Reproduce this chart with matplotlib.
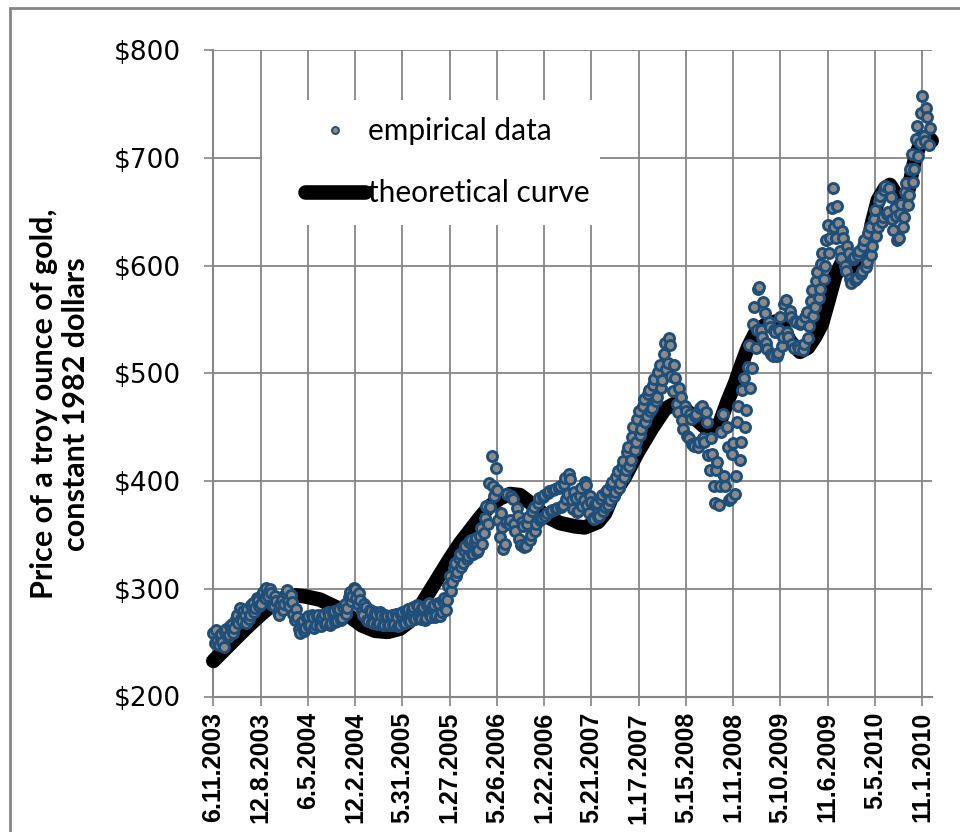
import numpy as np
import pandas as pd
import matplotlib
matplotlib.use("Agg")
import matplotlib.pyplot as plt
from matplotlib.patches import Rectangle
from matplotlib.lines import Line2D

# ---------------- data ----------------
start_date = pd.Timestamp("2003-06-11")

tick_dates = ["2003-06-11", "2003-12-08", "2004-06-05", "2004-12-02", "2005-05-31",
              "2005-11-27", "2006-05-26", "2006-11-22", "2007-05-21", "2007-11-17",
              "2008-05-15", "2008-11-11", "2009-05-10", "2009-11-06", "2010-05-05",
              "2010-11-01"]
tick_labels = ["6.11.2003", "12.8.2003", "6.5.2004", "12.2.2004", "5.31.2005",
               "1.27.2005", "5.26.2006", "1.22.2006", "5.21.2007", "1.17.2007",
               "5.15.2008", "1.11.2008", "5.10.2009", "11.6.2009", "5.5.2010",
               "11.1.2010"]

y_ticks = [200, 300, 400, 500, 600, 700, 800]
y_tick_labels = ["$200", "$300", "$400", "$500", "$600", "$700", "$800"]

# empirical data: one reading every 5 days from start_date
emp_step_days = 5
emp_values = [
    259, 250, 262, 252, 248, 256, 258, 251, 246, 260,
    263, 255, 257, 265, 267, 259, 264, 272, 276, 268,
    282, 272, 270, 279, 276, 268, 281, 272, 276, 285,
    287, 278, 282, 291, 290, 284, 286, 294, 297, 291,
    301, 295, 293, 300, 296, 285, 284, 293, 289, 278,
    276, 286, 290, 280, 286, 296, 299, 289, 284, 294,
    288, 277, 271, 281, 274, 263, 259, 268, 270, 261,
    264, 273, 275, 265, 266, 276, 274, 264, 266, 275,
    276, 266, 265, 274, 277, 267, 268, 278, 276, 266,
    268, 277, 279, 269, 270, 280, 281, 271, 273, 283,
    286, 277, 282, 292, 297, 289, 293, 301, 300, 291,
    286, 296, 290, 279, 276, 286, 283, 271, 270, 280,
    279, 269, 268, 278, 277, 267, 268, 278, 276, 266,
    266, 276, 275, 266, 266, 275, 276, 266, 267, 277,
    274, 265, 266, 276, 278, 268, 268, 279, 281, 270,
    270, 280, 283, 272, 272, 285, 284, 273, 272, 282,
    283, 271, 273, 285, 287, 276, 274, 284, 285, 274,
    276, 287, 286, 275, 278, 289, 291, 280, 290, 303,
    312, 298, 306, 319, 324, 312, 316, 329, 332, 320,
    324, 336, 340, 328, 330, 343, 345, 332, 332, 344,
    347, 334, 336, 349, 356, 342, 352, 366, 377, 360,
    398, 376, 423, 395, 386, 412, 392, 364, 348, 370,
    357, 337, 342, 362, 388, 360, 364, 386, 383, 360,
    354, 375, 368, 346, 341, 362, 358, 339, 340, 360,
    367, 345, 350, 372, 376, 354, 360, 380, 384, 364,
    366, 385, 387, 368, 370, 389, 391, 372, 373, 392,
    393, 374, 375, 394, 395, 376, 378, 397, 403, 383,
    388, 407, 402, 382, 374, 390, 384, 371, 372, 386,
    394, 377, 382, 399, 396, 378, 370, 386, 381, 366,
    365, 379, 380, 367, 368, 383, 387, 372, 376, 390,
    392, 378, 382, 396, 399, 386, 390, 404, 409, 394,
    398, 413, 419, 404, 410, 427, 432, 414, 420, 441,
    450, 429, 436, 458, 465, 443, 448, 470, 476, 455,
    460, 481, 485, 465, 468, 489, 495, 474, 478, 501,
    508, 486, 494, 518, 528, 504, 510, 533, 526, 498,
    484, 508, 496, 472, 464, 486, 478, 457, 448, 470,
    465, 442, 440, 462, 458, 434, 433, 460, 462, 432,
    436, 468, 470, 440, 436, 464, 455, 424, 410, 440,
    425, 395, 380, 410, 418, 378, 395, 446, 462, 405,
    395, 450, 432, 382, 384, 425, 435, 388, 405, 455,
    470, 420, 436, 485, 496, 450, 466, 506, 526, 486,
    505, 546, 562, 524, 540, 578, 580, 540, 534, 566,
    556, 528, 523, 548, 543, 518, 516, 540, 538, 516,
    519, 540, 552, 525, 534, 564, 568, 538, 534, 558,
    552, 527, 524, 549, 548, 525, 523, 546, 548, 522,
    527, 552, 557, 533, 544, 567, 577, 553, 562, 586,
    594, 570, 578, 602, 612, 588, 600, 624, 638, 612,
    626, 654, 672, 636, 626, 655, 640, 614, 607, 632,
    626, 600, 595, 618, 612, 588, 584, 606, 608, 587,
    589, 610, 614, 592, 595, 618, 624, 599, 603, 630,
    636, 610, 618, 643, 652, 628, 636, 660, 665, 641,
    645, 670, 674, 648, 650, 672, 664, 643, 633, 654,
    646, 624, 626, 648, 657, 636, 645, 668, 677, 656,
    666, 690, 704, 678, 690, 718, 730, 702, 714, 742,
    758, 720, 716, 746, 738, 712, 728,
]

# theoretical curve: days since start_date and value
theo_days = [0, 45, 94, 140, 185, 235, 273, 311, 349, 406, 475, 521, 566, 616, 665,
             711, 749, 787, 825, 863, 901, 939, 977, 1015, 1054, 1092, 1130, 1168,
             1206, 1263, 1320, 1377, 1415, 1465, 1492, 1518, 1568, 1617, 1671, 1720,
             1758, 1797, 1835, 1873, 1899, 1930, 1960, 1987, 2013, 2036, 2063, 2101,
             2139, 2166, 2196, 2234, 2265, 2292, 2318, 2341, 2368, 2394, 2417, 2455,
             2482, 2508, 2531, 2558, 2577, 2596, 2622, 2645, 2671, 2698, 2721, 2736]
theo_values = [233, 244, 256, 267, 277, 287, 292, 294, 293, 290, 282, 274, 266, 261, 260,
               263, 270, 283, 298, 313, 328, 342, 354, 366, 377, 384, 388, 387,
               380, 368, 361, 358, 357, 362, 370, 385, 404, 427, 449, 467,
               472, 467, 458, 450, 446, 455, 475, 491, 509, 524, 537, 545,
               548, 545, 530, 520, 524, 534, 546, 566, 590, 603, 603, 597,
               606, 639, 661, 672, 675, 668, 655, 668, 698, 718, 720, 716]

x_end_days = 2736

# ---------------- figure ----------------
W, H = 960, 832
fig = plt.figure(figsize=(W / 100, H / 100), dpi=100)
ax_left, ax_right, ax_top, ax_bottom = 213.3, 931.7, 50.3, 696.5
ax = fig.add_axes([ax_left / W, 1 - ax_bottom / H, (ax_right - ax_left) / W,
                   (ax_bottom - ax_top) / H])

grid_col = "#868686"
tick_days = [(pd.Timestamp(d) - start_date).days for d in tick_dates]
emp_days = np.arange(len(emp_values)) * emp_step_days

ax.set_axisbelow(True)
ax.grid(True, color=grid_col, lw=1.3)

ax.plot(theo_days, theo_values, color="black", lw=10.5, solid_capstyle="round",
        solid_joinstyle="round", clip_on=False, zorder=3)
ax.plot(emp_days, emp_values, ls="none", marker="o", ms=7.2, mfc="#8a8a8a",
        mec="#1f4e79", mew=2.1, clip_on=False, zorder=4)

ax.set_xlim(0, x_end_days)
ax.set_ylim(200, 800)
ax.set_xticks(tick_days)
ax.set_xticklabels(tick_labels, rotation=90, fontsize=18, fontweight="bold",
                   family="Liberation Sans")
ax.set_yticks(y_ticks)
ax.set_yticklabels(y_tick_labels, fontsize=19, family="DejaVu Sans")
ax.tick_params(axis="both", direction="out", length=6.5, width=1.2, color=grid_col)
ax.tick_params(axis="y", pad=17)
ax.tick_params(axis="x", pad=4.7)
for s in ["top", "right"]:
    ax.spines[s].set_visible(False)
for s in ["left", "bottom"]:
    ax.spines[s].set_color(grid_col)
    ax.spines[s].set_linewidth(1.5)

# white legend area
ax.add_patch(Rectangle((0.0678, 0.7297), 0.538 - 0.0678, 0.923 - 0.7297,
                       transform=ax.transAxes, facecolor="white", edgecolor="none",
                       zorder=1))
handles = [
    Line2D([], [], ls="none", marker="o", ms=5, mfc="#8a8a8a", mec="#1f4e79", mew=1.4),
    Line2D([], [], color="black", lw=10.5, solid_capstyle="round"),
]
leg = ax.legend(handles, ["empirical data", "theoretical curve"], loc="upper left",
                bbox_to_anchor=((305 - ax_left) / (ax_right - ax_left),
                                (ax_bottom - 117) / (ax_bottom - ax_top)),
                frameon=False, borderpad=0, borderaxespad=0, handlelength=2.0,
                handletextpad=0.1, labelspacing=1.14,
                prop={"family": "Lato", "size": 21.5})
leg.set_zorder(5)

# y label
fig.text(60 / W, 1 - 404 / H, "Price of a troy ounce of gold,\nconstant 1982 dollars",
         rotation=90, ha="center", va="center", multialignment="center",
         fontsize=22, fontweight="bold", family=["Liberation Sans Narrow", "Lato"],
         linespacing=1.15)

# chart border
fig.patches.append(Rectangle((10 / W, -0.05), 1.2, (1 - 8 / H) + 0.05,
                             transform=fig.transFigure, fill=False,
                             edgecolor=grid_col, lw=2))

fig.savefig("out.png", dpi=100)
